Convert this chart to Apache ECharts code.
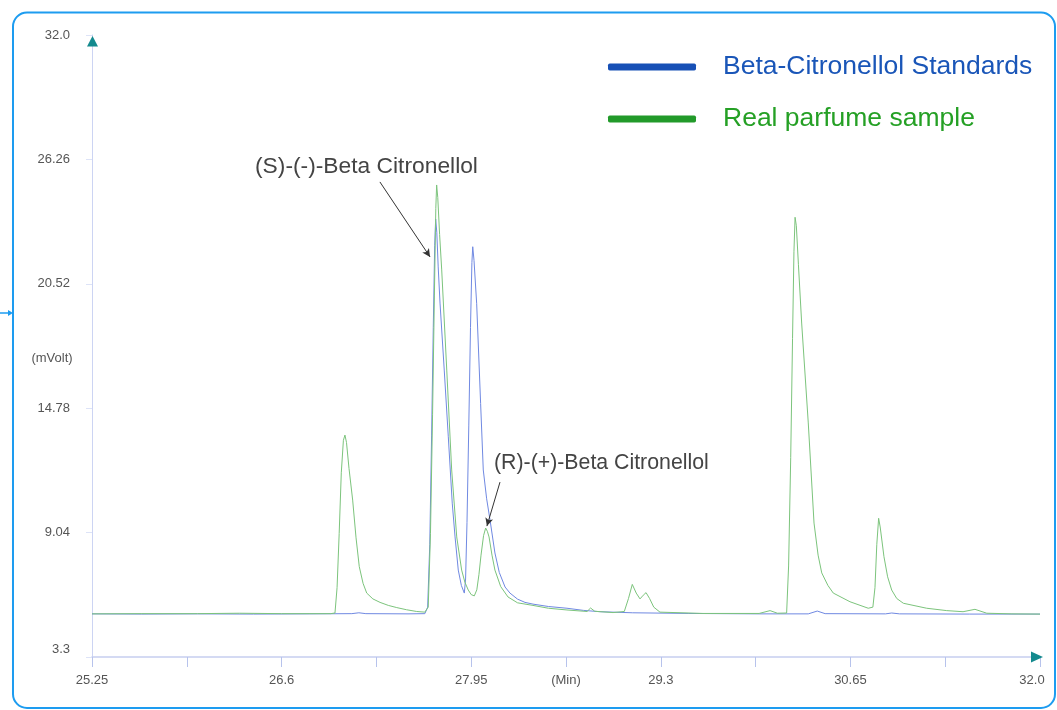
<!DOCTYPE html>
<html>
<head>
<meta charset="utf-8">
<script src="https://cdn.jsdelivr.net/npm/echarts@6/dist/echarts.min.js"></script>
<style>
html,body{margin:0;padding:0;background:#fff;}
#c{width:1057px;height:710px;}
</style>
</head>
<body>
<div id="c"></div>
<script>
// ---- Data ----
const stdTime = [25.25,25.60,26.00,26.40,26.80,27.10,27.15,27.20,27.50,27.62,27.64,27.655,27.668,27.680,27.690,27.697,27.705,27.715,27.728,27.758,27.787,27.815,27.835,27.858,27.880,27.901,27.910,27.920,27.933,27.945,27.955,27.961,27.970,27.989,28.017,28.036,28.060,28.084,28.119,28.150,28.191,28.226,28.280,28.333,28.390,28.500,28.632,28.750,28.867,29.100,29.500,30.000,30.350,30.414,30.470,30.900,30.944,31.000,31.500,32.000];
const stdValue = [5.29,5.28,5.29,5.28,5.29,5.30,5.34,5.30,5.29,5.30,5.60,8.5,13.5,18.5,22.3,23.51,22.9,21.3,19.63,16.54,13.46,10.4,8.84,7.31,6.6,6.25,6.9,9.5,14.0,18.5,21.5,22.23,21.6,19.6,15.0,11.93,10.6,9.62,8.10,7.2,6.53,6.25,5.97,5.82,5.74,5.63,5.55,5.45,5.39,5.34,5.31,5.29,5.29,5.42,5.30,5.29,5.33,5.29,5.28,5.28];

const sampleTime = [25.25,25.60,26.00,26.30,26.60,26.95,26.98,26.995,27.010,27.025,27.040,27.051,27.062,27.080,27.106,27.130,27.153,27.180,27.206,27.250,27.301,27.360,27.420,27.490,27.562,27.620,27.644,27.660,27.675,27.688,27.698,27.704,27.712,27.725,27.740,27.776,27.811,27.847,27.882,27.905,27.929,27.950,27.972,27.990,28.005,28.020,28.038,28.053,28.065,28.077,28.098,28.119,28.160,28.212,28.280,28.390,28.500,28.632,28.775,28.800,28.830,28.960,29.040,29.070,29.097,29.125,29.152,29.175,29.195,29.220,29.250,29.294,29.600,30.000,30.078,30.130,30.196,30.210,30.225,30.238,30.248,30.256,30.265,30.280,30.303,30.350,30.391,30.420,30.446,30.490,30.528,30.647,30.777,30.810,30.825,30.838,30.851,30.862,30.889,30.915,30.944,30.980,31.027,31.193,31.336,31.452,31.537,31.621,31.800,32.000];
const sampleValue = [5.29,5.30,5.30,5.32,5.30,5.30,5.33,6.5,9.0,11.8,13.3,13.54,13.2,12.0,10.54,8.8,7.47,6.7,6.25,5.98,5.82,5.68,5.58,5.48,5.40,5.37,5.60,9.0,14.5,20.0,24.0,25.08,24.5,22.8,21.16,16.54,11.93,8.84,7.31,6.75,6.39,6.18,6.12,6.4,7.1,8.0,8.9,9.25,9.1,8.84,8.0,7.31,6.55,6.07,5.80,5.68,5.55,5.47,5.40,5.56,5.41,5.35,5.40,6.0,6.65,6.25,5.98,6.15,6.27,6.0,5.6,5.37,5.31,5.31,5.44,5.32,5.33,7.5,12.5,18.0,22.0,23.59,23.2,21.4,18.71,14.10,9.48,8.0,7.18,6.6,6.25,5.85,5.55,5.6,6.5,8.5,9.70,9.3,7.93,7.0,6.39,6.0,5.78,5.55,5.44,5.39,5.50,5.32,5.29,5.28];

const seriesNames = ['Beta-Citronellol Standards', 'Real parfume sample'];

const xTicks = [25.25,25.925,26.6,27.275,27.95,28.625,29.3,29.975,30.65,31.325,32.0];
const xLabels = ['25.25','','26.6','','27.95','(Min)','29.3','','30.65','','32.0'];
const yTicks = [3.3,9.04,14.78,20.52,26.26,32.0];
const yLabels = ['3.3','9.04','14.78','20.52','26.26','32.0'];

const annotationTexts = ['(S)-(-)-Beta Citronellol', '(R)-(+)-Beta Citronellol'];
const annotationArrows = [
  [[27.30, 25.22], [27.657, 21.76]],
  [[28.155, 11.37], [28.062, 9.34]]
];

// ---- Chart ----
const FONT = '"Liberation Sans", Arial, Helvetica, sans-serif';
const chart = echarts.init(document.getElementById('c'), null, {renderer: 'canvas'});

function nearestIdx(arr, v) {
  let b = 0;
  for (let i = 1; i < arr.length; i++) if (Math.abs(arr[i] - v) < Math.abs(arr[b] - v)) b = i;
  return b;
}

const option = {
  animation: false,
  backgroundColor: '#ffffff',
  grid: {left: 92, right: 17, top: 35, bottom: 53, containLabel: false},
  legend: {
    orient: 'vertical',
    left: 603,
    top: 48,
    itemWidth: 88,
    itemHeight: 7,
    itemGap: 24,
    icon: 'roundRect',
    selectedMode: false,
    textStyle: {fontSize: 26.5, fontFamily: FONT, lineHeight: 28, padding: [0, 0, 0, 22]},
    data: [
      {name: seriesNames[0], itemStyle: {color: '#1750b6', borderWidth: 0}, textStyle: {color: '#1a56b8'}},
      {name: seriesNames[1], itemStyle: {color: '#229a2a', borderWidth: 0}, textStyle: {color: '#25a025'}}
    ]
  },
  xAxis: {
    type: 'value',
    min: 25.25,
    max: 32.0,
    axisLine: {show: true, lineStyle: {color: '#c6cef0', width: 1.5}},
    axisTick: {show: true, length: 10, customValues: xTicks, lineStyle: {color: '#b7c3ec', width: 1}},
    splitLine: {show: false},
    axisLabel: {
      customValues: xTicks.filter((v, i) => xLabels[i] !== ''),
      margin: 17,
      color: '#555',
      fontSize: 13,
      fontFamily: FONT,
      formatter: function (v) {
        const i = nearestIdx(xTicks, v);
        if (i === xTicks.length - 1) return '{e|' + xLabels[i] + '}';
        return xLabels[i];
      },
      rich: {e: {color: '#555', fontSize: 13, fontFamily: FONT, padding: [0, 16, 0, 0]}}
    }
  },
  yAxis: {
    type: 'value',
    min: 3.3,
    max: 32.0,
    axisLine: {show: true, lineStyle: {color: '#ccd4f3', width: 1}},
    axisTick: {show: true, length: 6, customValues: yTicks, lineStyle: {color: '#dde3f7', width: 1}},
    splitLine: {show: false},
    axisLabel: {
      customValues: yTicks,
      margin: 22,
      color: '#555',
      fontSize: 13,
      fontFamily: FONT,
      formatter: function (v) {
        const i = nearestIdx(yTicks, v);
        if (i === 0) return '{b|' + yLabels[i] + '}';
        return yLabels[i];
      },
      rich: {b: {color: '#555', fontSize: 13, fontFamily: FONT, padding: [0, 0, 16, 0]}}
    }
  },
  series: [
    {
      name: seriesNames[0],
      type: 'line',
      showSymbol: false,
      symbol: 'none',
      silent: true,
      itemStyle: {color: '#1750b6'},
      lineStyle: {color: '#7089e2', width: 1},
      data: stdTime.map((t, i) => [t, stdValue[i]]),
      z: 2
    },
    {
      name: seriesNames[1],
      type: 'line',
      showSymbol: false,
      symbol: 'none',
      silent: true,
      itemStyle: {color: '#229a2a'},
      lineStyle: {color: '#7cc47c', width: 1},
      data: sampleTime.map((t, i) => [t, sampleValue[i]]),
      z: 3,
      markLine: {
        silent: true,
        symbol: ['none', 'arrow'],
        symbolSize: [6, 8],
        lineStyle: {color: '#333', width: 1, type: 'solid'},
        label: {show: false},
        data: annotationArrows.map(a => [{coord: a[0]}, {coord: a[1]}])
      }
    }
  ],
  graphic: [
    {type: 'rect', shape: {x: 13, y: 12.5, width: 1042, height: 695.5, r: 14}, style: {fill: 'none', stroke: '#1d9cf0', lineWidth: 2}, z: 100},
    {type: 'line', shape: {x1: 0, y1: 313, x2: 9, y2: 313}, style: {stroke: '#1d9cf0', lineWidth: 1.5}, z: 100},
    {type: 'polygon', shape: {points: [[8, 310], [13, 313], [8, 316]]}, style: {fill: '#1d9cf0'}, z: 100},
    {type: 'polygon', shape: {points: [[92.5, 36], [98, 46.5], [87, 46.5]]}, style: {fill: '#148a8e'}, z: 100},
    {type: 'polygon', shape: {points: [[1043, 657], [1031, 651.5], [1031, 662.5]]}, style: {fill: '#148a8e'}, z: 100},
    {type: 'text', x: 52, y: 358, style: {text: '(mVolt)', fill: '#555', font: '13px ' + FONT, textAlign: 'center', textVerticalAlign: 'middle'}, z: 100},
    {type: 'text', x: 255, y: 167, style: {text: annotationTexts[0], fill: '#444', font: '22.8px ' + FONT, textAlign: 'left', textVerticalAlign: 'middle'}, z: 100},
    {type: 'text', x: 494, y: 463, style: {text: annotationTexts[1], fill: '#444', font: '21.3px ' + FONT, textAlign: 'left', textVerticalAlign: 'middle'}, z: 100}
  ]
};
chart.setOption(option);
</script>
</body>
</html>
